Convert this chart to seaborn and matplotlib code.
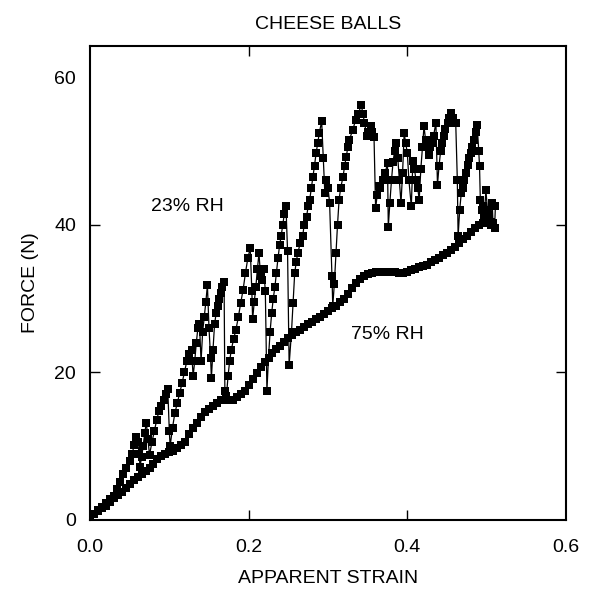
import matplotlib
matplotlib.use("Agg")
import matplotlib.pyplot as plt
import seaborn as sns
import pandas as pd

# ---- data ----
strain_23 = [0.000, 0.005, 0.010, 0.015, 0.020, 0.025, 0.030, 0.034, 0.038, 0.042,
             0.046, 0.050, 0.053, 0.056, 0.058, 0.060, 0.062, 0.063, 0.065, 0.067,
             0.069, 0.071, 0.073, 0.075, 0.078, 0.081, 0.084, 0.087, 0.090, 0.093,
             0.096, 0.098, 0.100, 0.101, 0.104, 0.107, 0.110, 0.113, 0.116, 0.119,
             0.122, 0.125, 0.128, 0.130, 0.132, 0.134, 0.136, 0.138, 0.140, 0.142,
             0.144, 0.146, 0.148, 0.150, 0.152, 0.153, 0.155, 0.157, 0.159, 0.161,
             0.163, 0.165, 0.167, 0.169, 0.170, 0.172, 0.174, 0.176, 0.178, 0.181,
             0.184, 0.187, 0.190, 0.193, 0.196, 0.199, 0.202, 0.204, 0.205, 0.207,
             0.209, 0.211, 0.213, 0.215, 0.217, 0.219, 0.221, 0.223, 0.225, 0.227,
             0.229, 0.231, 0.233, 0.235, 0.237, 0.239, 0.241, 0.243, 0.245, 0.247,
             0.249, 0.251, 0.254, 0.256, 0.258, 0.260, 0.262, 0.265, 0.268, 0.270,
             0.273, 0.275, 0.277, 0.279, 0.281, 0.283, 0.285, 0.287, 0.289, 0.292,
             0.294, 0.296, 0.298, 0.300, 0.302, 0.305, 0.306, 0.308, 0.310, 0.312,
             0.314, 0.316, 0.319, 0.321, 0.323, 0.325, 0.327, 0.331, 0.335, 0.338,
             0.342, 0.344, 0.346, 0.349, 0.351, 0.354, 0.356, 0.358, 0.360, 0.362,
             0.364, 0.366, 0.369, 0.372, 0.375, 0.376, 0.378, 0.380, 0.382, 0.384,
             0.386, 0.388, 0.390, 0.392, 0.394, 0.396, 0.398, 0.400, 0.402, 0.405,
             0.407, 0.409, 0.411, 0.413, 0.415, 0.417, 0.419, 0.421, 0.423, 0.425,
             0.427, 0.429, 0.431, 0.433, 0.436, 0.438, 0.440, 0.442, 0.444, 0.446,
             0.448, 0.451, 0.453, 0.455, 0.458, 0.461, 0.463, 0.464, 0.466, 0.468,
             0.470, 0.472, 0.474, 0.476, 0.478, 0.480, 0.482, 0.484, 0.486, 0.488,
             0.490, 0.491, 0.492, 0.494, 0.495, 0.497, 0.499, 0.501, 0.503, 0.505,
             0.507, 0.508, 0.510, 0.511]
force_23 = [0.5, 0.8, 1.3, 1.8, 2.3, 2.8, 3.3, 4.2, 5.2, 6.2,
            7.0, 8.0, 9.0, 10.2, 11.2, 10.5, 9.0, 7.2, 8.5, 10.0,
            11.8, 13.2, 11.0, 8.8, 10.5, 12.0, 13.5, 14.8, 15.5, 16.3,
            17.0, 17.8, 12.0, 10.0, 12.5, 14.5, 15.8, 17.2, 18.5, 20.0,
            21.5, 22.5, 23.0, 19.5, 21.5, 24.0, 26.0, 26.5, 21.5, 25.5,
            27.5, 29.5, 31.8, 26.0, 22.0, 19.2, 23.0, 26.5, 28.0, 29.0,
            30.0, 30.8, 31.5, 32.3, 17.5, 16.8, 19.5, 21.5, 23.0, 24.5,
            25.8, 27.5, 29.4, 31.2, 33.5, 35.5, 36.8, 31.0, 27.2, 29.5,
            31.5, 34.0, 36.1, 33.0, 32.5, 34.0, 31.0, 17.5, 22.0, 25.5,
            28.0, 30.0, 31.5, 33.5, 35.5, 37.2, 38.5, 40.0, 41.5, 42.5,
            36.5, 21.0, 25.5, 29.4, 33.4, 35.0, 36.2, 37.5, 38.4, 40.0,
            41.1, 42.5, 43.4, 45.0, 46.5, 48.0, 49.7, 51.0, 52.4, 54.0,
            49.0, 44.3, 46.0, 45.0, 43.0, 33.0, 29.0, 32.0, 36.1, 40.0,
            43.4, 45.0, 46.5, 48.0, 49.2, 50.5, 51.5, 52.8, 54.2, 55.0,
            56.2, 55.0, 53.8, 52.0, 52.5, 53.3, 52.5, 51.9, 42.2, 44.0,
            45.2, 45.0, 46.1, 47.0, 48.3, 39.7, 43.0, 46.0, 48.5, 50.0,
            51.0, 49.0, 46.0, 42.9, 47.0, 52.4, 51.0, 49.7, 46.0, 42.5,
            48.6, 47.5, 46.0, 45.0, 43.4, 47.5, 50.5, 53.3, 51.5, 50.5,
            49.5, 50.5, 51.0, 52.0, 53.8, 45.4, 48.0, 50.0, 51.0, 52.0,
            53.0, 53.8, 54.5, 55.1, 54.5, 53.8, 46.1, 38.4, 42.0, 44.3,
            45.0, 46.0, 47.0, 48.1, 49.0, 49.7, 50.5, 51.5, 52.5, 53.5,
            50.0, 47.9, 43.4, 42.0, 42.5, 41.0, 44.7, 42.0, 41.1, 40.0,
            42.9, 40.2, 39.5, 42.5]

strain_75 = [0.000, 0.005, 0.010, 0.015, 0.020, 0.025, 0.030, 0.035, 0.040, 0.045,
             0.050, 0.055, 0.060, 0.065, 0.070, 0.075, 0.080, 0.085, 0.090, 0.095,
             0.100, 0.105, 0.110, 0.115, 0.120, 0.125, 0.130, 0.135, 0.140, 0.145,
             0.150, 0.155, 0.160, 0.165, 0.170, 0.175, 0.180, 0.185, 0.190, 0.195,
             0.200, 0.205, 0.210, 0.215, 0.220, 0.225, 0.230, 0.235, 0.240, 0.245,
             0.250, 0.255, 0.260, 0.265, 0.270, 0.275, 0.280, 0.285, 0.290, 0.295,
             0.300, 0.305, 0.310, 0.315, 0.320, 0.325, 0.330, 0.335, 0.340, 0.345,
             0.350, 0.355, 0.360, 0.365, 0.370, 0.375, 0.380, 0.385, 0.390, 0.395,
             0.400, 0.405, 0.410, 0.415, 0.420, 0.425, 0.430, 0.435, 0.440, 0.445,
             0.450, 0.455, 0.460, 0.465, 0.470, 0.475, 0.480, 0.485, 0.490, 0.495,
             0.500, 0.505]
force_75 = [0.5, 0.8, 1.2, 1.6, 1.9, 2.4, 3.0, 3.4, 3.8, 4.3,
            4.9, 5.4, 5.8, 6.2, 6.6, 7.1, 7.6, 8.2, 8.7, 9.0,
            9.2, 9.4, 9.7, 10.1, 10.6, 11.6, 12.4, 13.2, 14.0, 14.6,
            15.1, 15.5, 15.9, 16.2, 16.3, 16.3, 16.3, 16.6, 17.0, 17.5,
            18.3, 19.1, 19.9, 20.7, 21.4, 22.0, 22.6, 23.1, 23.6, 24.1,
            24.6, 25.0, 25.4, 25.7, 26.1, 26.5, 26.8, 27.2, 27.5, 27.9,
            28.3, 28.7, 29.0, 29.5, 29.9, 30.6, 31.4, 32.1, 32.7, 33.1,
            33.3, 33.5, 33.6, 33.6, 33.6, 33.6, 33.6, 33.6, 33.5, 33.4,
            33.6, 33.8, 34.0, 34.2, 34.4, 34.6, 34.9, 35.2, 35.5, 35.9,
            36.2, 36.6, 37.0, 37.5, 38.0, 38.5, 39.0, 39.5, 39.9, 40.2,
            40.4, 40.3]

x_ticks = [0.0, 0.2, 0.4, 0.6]
x_tick_labels = ["0.0", "0.2", "0.4", "0.6"]
y_ticks = [0, 20, 40, 60]
y_tick_labels = ["0", "20", "40", "60"]

title = "CHEESE BALLS"
x_label = "APPARENT STRAIN"
y_label = "FORCE (N)"
series_labels = ["23% RH", "75% RH"]

# ---- plotting ----
sns.set_theme(style="ticks")
plt.rcParams["font.family"] = ["Liberation Sans", "DejaVu Sans"]
plt.rcParams["text.color"] = "black"
plt.rcParams["axes.labelcolor"] = "black"
plt.rcParams["xtick.color"] = "black"
plt.rcParams["ytick.color"] = "black"

df23 = pd.DataFrame({"strain": strain_23, "force": force_23})
df75 = pd.DataFrame({"strain": strain_75, "force": force_75})

fig = plt.figure(figsize=(5.92, 6.01), dpi=100)
ax = fig.add_axes([90 / 592, 1 - 520 / 601, (566 - 90) / 592, (520 - 46) / 601])

for df in (df75, df23):
    sns.lineplot(data=df, x="strain", y="force", ax=ax, sort=False, estimator=None,
                 color="black", linewidth=0.9, marker="s", markersize=5.2,
                 markeredgewidth=0, markerfacecolor="black")

ax.set_xlim(0, 0.6)
ax.set_ylim(0, 64.2)
ax.set_xticks(x_ticks)
ax.set_xticklabels(x_tick_labels)
ax.set_yticks(y_ticks)
ax.set_yticklabels(y_tick_labels)

ax.tick_params(axis="both", which="major", direction="in", length=7, width=1.0,
               labelsize=14, colors="black", top=True, right=True)
ax.tick_params(axis="x", pad=14)
ax.tick_params(axis="y", pad=10)
# hide tick marks at the axis ends (as in the reference)
for t in (ax.xaxis.get_major_ticks()[0], ax.xaxis.get_major_ticks()[-1],
          ax.yaxis.get_major_ticks()[0], ax.yaxis.get_major_ticks()[-1]):
    t.tick1line.set_visible(False)
    t.tick2line.set_visible(False)

for s in ax.spines.values():
    s.set_visible(True)
    s.set_linewidth(1.5)
    s.set_color("black")

ax.set_title(title, fontsize=14, pad=12, color="black")
ax.set_xlabel(x_label, fontsize=14, labelpad=10)
ax.set_ylabel(y_label, fontsize=14, labelpad=11)

ax.text(0.123, 42.4, series_labels[0], fontsize=14, ha="center", va="center")
ax.text(0.375, 25.1, series_labels[1], fontsize=14, ha="center", va="center")

fig.savefig("out.png", dpi=100)
